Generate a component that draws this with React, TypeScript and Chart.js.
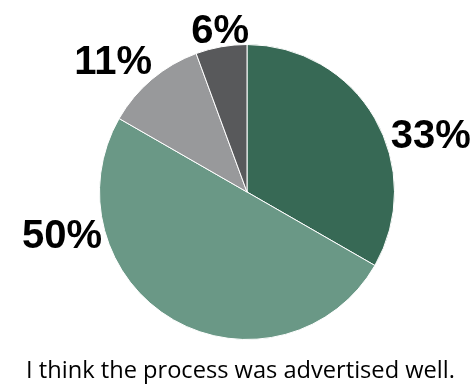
import React, { useEffect, useRef } from "react";
import { Chart, registerables } from "chart.js";

Chart.register(...registerables);

const categories = ["Strongly agree", "Agree", "Neutral", "Disagree"];
const values = [33.3, 50, 11.1, 5.6];
const caption = "I think the process was advertised well.";

const colors = ["#376955", "#6a9886", "#98999b", "#58595b"];
// label placement relative to each slice: [angle shift in degrees, radius factor]
const labelShift = [12.4, 47.4, -5.2, 0.8];
const labelRadius = [1.307, 1.286, 1.276, 1.126];

const labelPlugin = {
  id: "labelPlugin",
  afterDraw(chart: any) {
    const ctx = chart.ctx;
    const meta = chart.getDatasetMeta(0);
    const total = values.reduce((a, b) => a + b, 0);
    ctx.save();
    ctx.fillStyle = "#000000";
    ctx.font = "bold 40px 'Liberation Sans', Arial, sans-serif";
    ctx.textAlign = "center";
    ctx.textBaseline = "alphabetic";
    meta.data.forEach((arc: any, i: number) => {
      const mid = (arc.startAngle + arc.endAngle) / 2 + (labelShift[i] * Math.PI) / 180;
      const r = arc.outerRadius * labelRadius[i];
      const x = arc.x + Math.cos(mid) * r;
      const y = arc.y + Math.sin(mid) * r;
      const txt = Math.round((values[i] / total) * 100) + "%";
      ctx.fillText(txt, x, y + 14.5);
    });
    // caption
    ctx.font = "18px 'Open Sans', 'Noto Sans', sans-serif";
    const w = ctx.measureText(caption).width;
    const size = (18 * 429) / w;
    ctx.font = `${size}px 'Open Sans', 'Noto Sans', sans-serif`;
    ctx.fillStyle = "#000000";
    ctx.fillText(caption, 240.5, 378);
    ctx.restore();
  },
};

export default function App() {
  const ref = useRef<HTMLCanvasElement>(null);
  useEffect(() => {
    if (!ref.current) return;
    const chart = new Chart(ref.current, {
      type: "pie",
      data: {
        labels: categories,
        datasets: [
          {
            data: values,
            backgroundColor: colors,
            borderColor: "#ffffff",
            borderWidth: 1,
          },
        ],
      },
      options: {
        responsive: false,
        animation: false,
        layout: { padding: { left: 99, right: 80, top: 44, bottom: 48 } },
        plugins: {
          legend: { display: false },
          tooltip: { enabled: false },
          title: { display: false },
        },
      },
      plugins: [labelPlugin],
    });
    return () => chart.destroy();
  }, []);
  return (
    <div style={{ position: "fixed", left: 0, top: 0, width: 475, height: 388, background: "#fff" }}>
      <canvas ref={ref} width={475} height={388} style={{ width: 475, height: 388 }} />
    </div>
  );
}
